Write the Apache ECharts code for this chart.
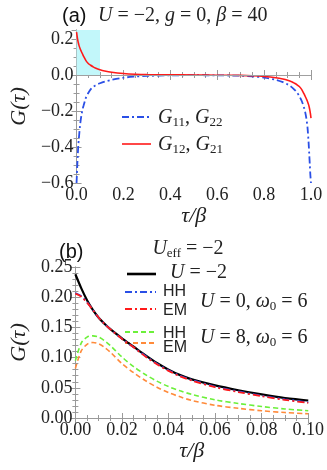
<!DOCTYPE html>
<html>
<head>
<meta charset="utf-8">
<script src="https://cdn.jsdelivr.net/npm/echarts@6/dist/echarts.min.js"></script>
<style>
  html, body { margin: 0; padding: 0; background: #fff; }
  #chart { width: 327px; height: 470px; }
</style>
</head>
<body>
<div id="chart"></div>
<script>
// Panel (a): full imaginary-time range
const tauA = [0, 0.0025, 0.005, 0.0075, 0.01, 0.015, 0.02, 0.025, 0.03, 0.04, 0.05, 0.06, 0.07, 0.08, 0.1, 0.12, 0.15, 0.2, 0.25, 0.3, 0.4, 0.5,
  0.6, 0.7, 0.75, 0.8, 0.85, 0.88, 0.9, 0.92, 0.93, 0.94, 0.95, 0.96, 0.97, 0.975, 0.98, 0.985, 0.99, 0.9925, 0.995, 0.9975, 1];
const g11 = [-0.6, -0.52, -0.45, -0.39, -0.35, -0.28, -0.23, -0.195, -0.17, -0.126, -0.1, -0.08, -0.067, -0.058, -0.046, -0.037, -0.027, -0.015, -0.009, -0.005, -0.002, -0.001,
  -0.002, -0.004, -0.008, -0.014, -0.027, -0.04, -0.052, -0.07, -0.082, -0.097, -0.117, -0.143, -0.18, -0.205, -0.24, -0.29, -0.38, -0.44, -0.5, -0.56, -0.6];
const g12 = [0.238, 0.215, 0.195, 0.179, 0.166, 0.147, 0.132, 0.118, 0.104, 0.08, 0.064, 0.054, 0.046, 0.039, 0.029, 0.022, 0.015, 0.008, 0.004, 0.002, 0.001, 0,
  -0.001, -0.002, -0.004, -0.008, -0.015, -0.022, -0.029, -0.039, -0.046, -0.054, -0.064, -0.08, -0.104, -0.118, -0.132, -0.147, -0.166, -0.179, -0.195, -0.215, -0.24];

// Panel (b): zoom on small tau
const tauB = [0, 0.0025, 0.005, 0.0075, 0.01, 0.0125, 0.015, 0.02, 0.025, 0.03, 0.035, 0.04, 0.045, 0.05, 0.06, 0.07, 0.08, 0.09, 0.1];
const gU  = [0.238, 0.215, 0.195, 0.179, 0.166, 0.156, 0.147, 0.132, 0.118, 0.104, 0.091, 0.08, 0.071, 0.064, 0.054, 0.046, 0.039, 0.033, 0.029];
const gHH0 = [0.207, 0.202, 0.192, 0.179, 0.166, 0.156, 0.147, 0.131, 0.117, 0.103, 0.09, 0.079, 0.07, 0.063, 0.052, 0.044, 0.037, 0.031, 0.026];
const gEM0 = [0.206, 0.201, 0.191, 0.179, 0.166, 0.156, 0.147, 0.131, 0.117, 0.102, 0.089, 0.078, 0.069, 0.062, 0.051, 0.043, 0.036, 0.03, 0.025];
const gHH8 = [0.095, 0.124, 0.134, 0.136, 0.134, 0.128, 0.12, 0.101, 0.085, 0.072, 0.061, 0.052, 0.045, 0.039, 0.03, 0.024, 0.019, 0.015, 0.012];
const gEM8 = [0.082, 0.111, 0.122, 0.125, 0.123, 0.117, 0.109, 0.09, 0.075, 0.062, 0.051, 0.042, 0.035, 0.029, 0.021, 0.016, 0.012, 0.009, 0.007];

const frame = '#9a9a9a';
const serif = 'Liberation Serif';
const sans = 'Liberation Sans';
const blue = '#2a4fe6';
const red = '#ff1a1a';
const green = '#6cf03a';
const orange = '#ff8a3a';
const dashDot = [7, 3, 2, 3];

const pair = (xs, ys) => xs.map((x, i) => [x, ys[i]]);

function fmt(digits, step) {
  return v => {
    if (Math.abs(v / step - Math.round(v / step)) > 1e-6) return '';
    const s = Math.abs(v).toFixed(digits);
    return (v < -1e-9 ? '\u2212' : '') + s;
  };
}

function axis(gridIndex, position, min, max, interval, minor, labelFmt, name) {
  const main = position === 'bottom' || position === 'left';
  const a = {
    type: 'value', gridIndex, position, min, max, interval,
    axisLine: { show: true, lineStyle: { color: frame, width: 1 } },
    axisTick: { show: true, inside: true, length: 5, lineStyle: { color: frame } },
    minorTick: { show: true, splitNumber: minor, length: 3, lineStyle: { color: frame } },
    splitLine: { show: false },
    axisLabel: {
      show: main, formatter: labelFmt, fontFamily: serif, fontSize: 18, color: '#222', margin: 3,
      showMaxLabel: true, showMinLabel: true
    }
  };
  if (main && name) {
    a.name = name;
    a.nameLocation = 'middle';
    a.nameTextStyle = { fontFamily: serif, fontStyle: 'italic', fontSize: 22, color: '#222' };
  }
  return a;
}

const xA = axis(0, 'bottom', 0, 1, 0.2, 4, fmt(1, 0.2), 'τ/β');
xA.nameGap = 21;
const yA = axis(0, 'left', -0.6, 0.25, 0.2, 4, fmt(1, 0.2), 'G(τ)');
yA.nameGap = 40;
const xB = axis(1, 'bottom', 0, 0.1, 0.02, 4, fmt(2, 0.02), 'τ/β');
xB.nameGap = 21;
const yB = axis(1, 'left', 0, 0.25, 0.05, 5, fmt(2, 0.05), 'G(τ)');
yB.nameGap = 40;

const line = (x, y, xi, yi, color, width, type, extra) => Object.assign({
  type: 'line', xAxisIndex: xi, yAxisIndex: yi, data: pair(x, y),
  showSymbol: false, smooth: 0.3, silent: true, animation: false,
  lineStyle: { color, width, type }
}, extra || {});

const mathRich = {
  i: { fontFamily: serif, fontStyle: 'italic', fontSize: 20, color: '#222' },
  r: { fontFamily: serif, fontSize: 20, color: '#222' },
  s: { fontFamily: serif, fontSize: 13, color: '#222', padding: [10, 0, 0, 0] },
  sa: { fontFamily: sans, fontSize: 16, color: '#222' }
};

const txt = (x, y, text, align) => ({
  type: 'text', x, y, silent: true,
  style: { text, rich: mathRich, align: align || 'left', verticalAlign: 'middle', fontFamily: serif, fontSize: 20, fill: '#222' }
});
const seg = (x1, x2, y, color, width, dash) => ({
  type: 'line', silent: true,
  shape: { x1, y1: y, x2, y2: y },
  style: { stroke: color, lineWidth: width, lineDash: dash || null }
});

const option = {
  backgroundColor: '#fff',
  animation: false,
  grid: [
    { left: 63, top: 30, width: 248, height: 153 },
    { left: 63, top: 267, width: 248, height: 151 }
  ],
  xAxis: [xA, axis(0, 'top', 0, 1, 0.2, 4), xB, axis(1, 'top', 0, 0.1, 0.02, 4)],
  yAxis: [yA, axis(0, 'right', -0.6, 0.25, 0.2, 4), yB, axis(1, 'right', 0, 0.25, 0.05, 5)],
  series: [
    line(tauA, g11, 0, 0, blue, 1.8, dashDot, {
      markArea: {
        silent: true,
        itemStyle: { color: '#c2f7fa' },
        data: [[{ xAxis: 0, yAxis: 0 }, { xAxis: 0.1, yAxis: 0.25 }]]
      },
      markLine: {
        silent: true, symbol: 'none', label: { show: false },
        lineStyle: { color: '#a0a0a0', width: 1, type: 'solid' },
        data: [{ yAxis: 0 }]
      }
    }),
    line(tauA, g12, 0, 0, red, 1.6, 'solid'),
    line(tauB, gU, 2, 2, '#000', 2.2, 'solid'),
    line(tauB, gHH0, 2, 2, blue, 1.8, dashDot),
    line(tauB, gEM0, 2, 2, red, 1.8, dashDot),
    line(tauB, gHH8, 2, 2, green, 1.6, [5, 3]),
    line(tauB, gEM8, 2, 2, orange, 1.6, [5, 3])
  ],
  graphic: [
    // panel titles
    { type: 'text', x: 62, y: 16, silent: true, style: { text: '(a)', fontFamily: sans, fontSize: 20, fill: '#111', verticalAlign: 'middle' } },
    txt(98, 16, '{i|U} = \u22122, {i|g} = 0, {i|β} = 40'),
    { type: 'text', x: 59, y: 252, silent: true, style: { text: '(b)', fontFamily: sans, fontSize: 20, fill: '#111', verticalAlign: 'middle' } },
    txt(188, 249, '{i|U}{s|eff} = \u22122', 'center'),
    // legend (a)
    seg(122, 151, 117, blue, 1.8, dashDot),
    txt(158, 118, '{i|G}{s|11}, {i|G}{s|22}'),
    seg(122, 151, 144, red, 1.6),
    txt(158, 145, '{i|G}{s|12}, {i|G}{s|21}'),
    // legend (b)
    seg(127, 156, 274, '#000', 2.6),
    txt(170, 273, '{i|U} = \u22122'),
    seg(125, 156, 292, blue, 2, dashDot),
    txt(163, 292, '{sa|HH}'),
    seg(125, 156, 309, red, 2, dashDot),
    txt(163, 311, '{sa|EM}'),
    txt(200, 302, '{i|U} = 0, {i|ω}{s|0} = 6'),
    seg(125, 156, 332, green, 2, [5, 3]),
    txt(163, 334, '{sa|HH}'),
    seg(125, 156, 343, orange, 2, [5, 3]),
    txt(163, 348, '{sa|EM}'),
    txt(200, 338, '{i|U} = 8, {i|ω}{s|0} = 6')
  ]
};

const chart = echarts.init(document.getElementById('chart'), null, { renderer: 'canvas' });
chart.setOption(option);
</script>
</body>
</html>
